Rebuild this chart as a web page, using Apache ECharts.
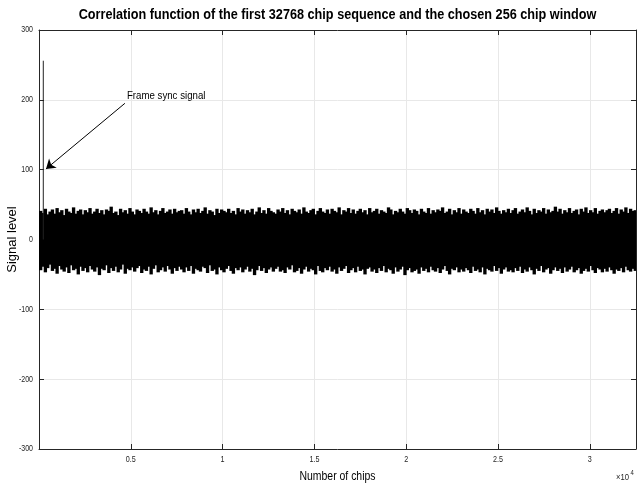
<!DOCTYPE html>
<html><head><meta charset="utf-8">
<script src="https://cdn.jsdelivr.net/npm/echarts@6/dist/echarts.min.js"></script>
<style>html,body{margin:0;padding:0;background:#fff}#c{width:637px;height:483px}</style>
</head><body><div id="c"></div>
<script>
// ---- data ----
const titleText = 'Correlation function of the first 32768 chip sequence and the chosen 256 chip window';
const xName = 'Number of chips';
const yName = 'Signal level';
const xMax = 32513;            // number of correlation lags (32768 - 256 + 1)
const blockSize = 128;         // chips per envelope block
const xTicks = [5000, 10000, 15000, 20000, 25000, 30000];
const xTickLabels = ['0.5', '1', '1.5', '2', '2.5', '3'];
const yTicks = [-300, -200, -100, 0, 100, 200, 300];
const yTickLabels = ['-300', '-200', '-100', '0', '100', '200', '300'];
// upper envelope (max per 128-chip block)
const upperEnv = [
41,38,44,36,40,43,37,45,39,42,35,44,40,38,46,37,41,43,36,42,
39,45,37,40,44,38,42,36,43,41,47,38,40,35,44,39,42,37,45,40,
36,43,41,38,44,40,37,46,39,42,36,41,45,38,40,43,37,44,39,41,
42,37,45,40,36,43,39,44,38,41,46,37,42,40,35,44,38,43,41,39,
44,38,41,36,45,40,43,37,42,39,44,36,40,46,38,42,37,45,41,39,
37,43,40,45,38,42,36,44,41,39,43,37,46,40,38,42,44,36,41,45,
40,38,43,37,44,41,39,46,36,42,40,45,38,43,37,41,44,39,42,36,
45,39,41,44,37,42,40,38,46,43,36,41,39,44,40,37,45,42,38,43,
41,36,44,40,38,45,37,42,39,43,41,46,38,40,44,36,42,39,45,37,
43,40,38,44,41,37,45,39,42,36,44,40,43,38,46,41,37,42,39,44,
38,42,45,37,40,43,39,46,41,36,44,38,42,40,45,37,43,39,41,47,
40,44,37,42,39,45,38,41,43,36,44,40,46,38,42,39,45,37,41,43,
39,42,44,38,41,45,37,43,40,46,38,44,41,42];
// lower envelope (min per 128-chip block)
const lowerEnv = [
-44,-39,-47,-41,-36,-45,-42,-49,-38,-43,-46,-40,-48,-37,-44,-42,-50,-39,-45,-41,
-47,-38,-43,-46,-40,-51,-42,-44,-37,-48,-41,-45,-39,-47,-43,-36,-49,-42,-44,-40,
-46,-41,-38,-48,-43,-45,-39,-50,-42,-37,-47,-44,-40,-46,-38,-43,-49,-41,-45,-39,
-43,-47,-40,-45,-38,-49,-42,-44,-46,-39,-41,-48,-37,-45,-43,-50,-40,-44,-47,-42,
-38,-45,-49,-41,-44,-40,-47,-43,-39,-46,-42,-51,-44,-38,-45,-41,-48,-43,-40,-46,
-42,-39,-46,-44,-48,-40,-43,-37,-47,-45,-41,-49,-43,-39,-46,-42,-44,-50,-38,-45,
-47,-41,-44,-39,-46,-43,-49,-40,-45,-42,-38,-48,-44,-41,-47,-39,-45,-43,-50,-42,
-40,-46,-43,-48,-41,-45,-38,-47,-42,-44,-49,-40,-46,-43,-39,-51,-44,-41,-47,-45,
-43,-49,-40,-45,-42,-47,-39,-44,-46,-41,-48,-43,-38,-45,-50,-42,-44,-40,-47,-43,
-46,-41,-44,-48,-39,-45,-43,-47,-40,-50,-42,-44,-46,-38,-45,-41,-49,-43,-40,-46,
-44,-47,-41,-45,-39,-48,-43,-46,-40,-44,-50,-42,-45,-38,-47,-43,-41,-49,-44,-40,
-45,-42,-48,-40,-46,-43,-39,-47,-44,-41,-49,-45,-42,-46,-38,-44,-48,-41,-43,-47,
-42,-46,-40,-44,-49,-43,-45,-41,-47,-39,-44,-46,-42,-45];
// frame sync peak
const spikeX = 234;
const spikePeak = 256;
// annotation
const annotText = 'Frame sync signal';
const annotTextAt = [4787, 205];
const arrowFrom = [4678, 195];
const arrowTo = [381, 101];

// ---- build ----
const SANS = "'Liberation Sans',Arial,sans-serif";
const AX = '#262626';
const envData = upperEnv.map((u, i) => [i * blockSize, Math.min((i + 1) * blockSize, xMax), lowerEnv[i], u]);

const chart = echarts.init(document.getElementById('c'), null, {renderer: 'canvas'});
const baseX = {
  type: 'value', min: 0, max: xMax, interval: 5000,
  axisLine: {show: true, onZero: false, lineStyle: {color: AX, width: 1}},
  axisTick: {show: true, inside: true, length: 5, lineStyle: {color: AX, width: 1}},
  axisLabel: {show: false}
};
const baseY = {
  type: 'value', min: -300, max: 300, interval: 100,
  axisLine: {show: true, onZero: false, lineStyle: {color: AX, width: 1}},
  axisTick: {show: true, inside: true, length: 5, lineStyle: {color: AX, width: 1}},
  axisLabel: {show: false}
};
chart.setOption({
  animation: false,
  backgroundColor: '#fff',
  grid: {left: 39, right: 1, top: 30, bottom: 34, containLabel: false, outerBoundsMode: 'none'},
  xAxis: [
    Object.assign({}, baseX, {position: 'bottom', splitLine: {show: true, lineStyle: {color: '#e8e8e8', width: 1}}}),
    Object.assign({}, baseX, {position: 'top', splitLine: {show: false}})
  ],
  yAxis: [
    Object.assign({}, baseY, {position: 'left', splitLine: {show: true, lineStyle: {color: '#e8e8e8', width: 1}}}),
    Object.assign({}, baseY, {position: 'right', splitLine: {show: false}})
  ],
  series: [{
    type: 'custom', clip: true, silent: true,
    encode: {x: [0, 1], y: [2, 3]},
    data: envData,
    renderItem: (params, api) => {
      const a = api.coord([api.value(0), api.value(2)]);
      const b = api.coord([api.value(1), api.value(3)]);
      return {type: 'rect', shape: {x: a[0], y: b[1], width: b[0] - a[0] + 1, height: a[1] - b[1]},
        style: {fill: '#000'}};
    }
  }, {
    type: 'line', silent: true, symbol: 'none', clip: true,
    data: [[spikeX, 0], [spikeX, spikePeak]],
    lineStyle: {color: '#222', width: 1},
    markLine: {
      silent: true, symbol: ['none', 'arrow'], symbolSize: 9,
      lineStyle: {color: '#000', width: 1, type: 'solid'},
      label: {show: false},
      data: [[{coord: arrowFrom}, {coord: arrowTo}]]
    }
  }]
});

// text drawn at positions from the chart's own scales
function txt(x, y, text, size, scaleX, align, opts) {
  return Object.assign({
    type: 'text', x: x, y: y, scaleX: scaleX, silent: true, z: 100,
    style: Object.assign({text: text, fontFamily: SANS, fontSize: size, fill: AX,
      align: align, verticalAlign: 'middle', textAlign: align, textVerticalAlign: 'middle'}, opts || {})
  });
}
const g = [];
const plotL = chart.convertToPixel({xAxisIndex: 0}, 0);
const plotR = chart.convertToPixel({xAxisIndex: 0}, xMax);
const plotT = chart.convertToPixel({yAxisIndex: 0}, 300);
const plotB = chart.convertToPixel({yAxisIndex: 0}, -300);
const midX = (plotL + plotR) / 2, midY = (plotT + plotB) / 2;
xTicks.forEach((v, i) => g.push(txt(chart.convertToPixel({xAxisIndex: 0}, v), plotB + 11, xTickLabels[i], 9, 0.8, 'center')));
yTicks.forEach((v, i) => g.push(txt(plotL - 6, chart.convertToPixel({yAxisIndex: 0}, v), yTickLabels[i], 9, 0.78, 'right')));
g.push(txt(midX, 15, titleText, 15, 0.845, 'center', {fontWeight: 'bold', fill: '#000'}));
g.push(txt(midX, plotB + 28, xName, 12, 0.87, 'center', {fill: '#000'}));
g.push(Object.assign(txt(12, midY, yName, 13, 1, 'center', {fill: '#000'}), {rotation: Math.PI / 2}));
const ap = chart.convertToPixel({xAxisIndex: 0, yAxisIndex: 0}, annotTextAt);
g.push(txt(ap[0], ap[1], annotText, 11, 0.88, 'left', {fill: '#000'}));
g.push(txt(616, plotB + 29, '×10', 9, 0.85, 'left'));
g.push(txt(630.5, plotB + 24, '4', 7, 0.85, 'left'));
chart.setOption({graphic: g});
</script></body></html>
